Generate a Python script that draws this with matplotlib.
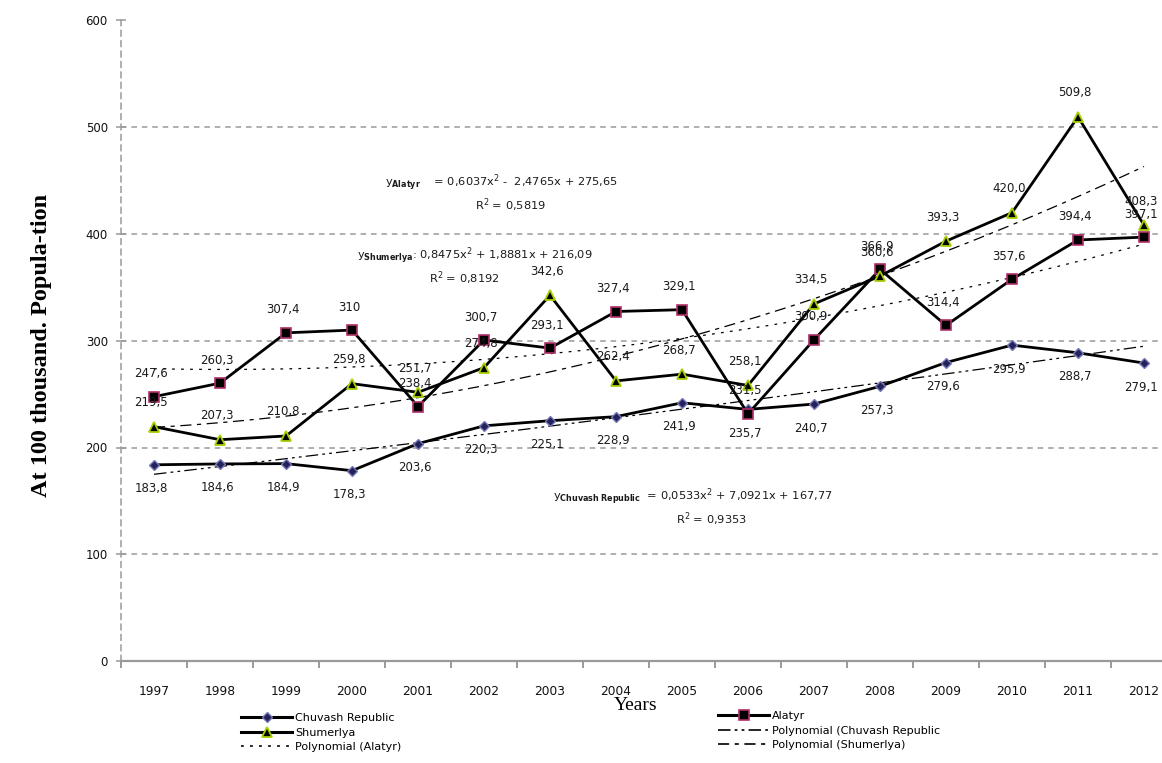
import numpy as np
import matplotlib
matplotlib.use("Agg")
import matplotlib.pyplot as plt
from matplotlib.lines import Line2D
from matplotlib.ticker import FixedLocator, NullFormatter

# ---- data -------------------------------------------------------------
years = [str(y) for y in range(1997, 2013)]
chuvash = [183.8, 184.6, 184.9, 178.3, 203.6, 220.3, 225.1, 228.9,
           241.9, 235.7, 240.7, 257.3, 279.6, 295.9, 288.7, 279.1]
alatyr = [247.6, 260.3, 307.4, 310, 238.4, 300.7, 293.1, 327.4,
          329.1, 231.5, 300.9, 366.9, 314.4, 357.6, 394.4, 397.1]
shumerlya = [219.5, 207.3, 210.8, 259.8, 251.7, 274.8, 342.6, 262.4,
             268.7, 258.1, 334.5, 360.6, 393.3, 420.0, 509.8, 408.3]
y_ticks = [0, 100, 200, 300, 400, 500, 600]

eq_alatyr = r"$\mathregular{y}_{\mathbf{Alatyr}}$    = 0,6037x$^{2}$ -  2,4765x + 275,65"
r2_alatyr = r"R$^{2}$ = 0,5819"
eq_shum = r"$\mathregular{y}_{\mathbf{Shumerlya}}$: 0,8475x$^{2}$ + 1,8881x + 216,09"
r2_shum = r"R$^{2}$ = 0,8192"
eq_chuv = r"$\mathregular{y}_{\mathbf{Chuvash\ Republic}}$  = 0,0533x$^{2}$ + 7,0921x + 167,77"
r2_chuv = r"R$^{2}$ = 0,9353"

plt.rcParams["lines.scale_dashes"] = False
plt.rcParams["font.family"] = ["DejaVu Sans"]
plt.rcParams["mathtext.fontset"] = "dejavusans"

W, H = 1162, 763
fig = plt.figure(figsize=(W / 100, H / 100), dpi=100)
ax = fig.add_axes([121 / W, (H - 661) / H, 1056 / W, 640.5 / H])

x = np.arange(len(years))
ax.set_xlim(-0.5, len(years) - 0.5)
ax.set_ylim(0, 600)

# grid and spines
grid_col = "#9a9a9a"
for yv in y_ticks[1:]:
    ax.axhline(yv, color=grid_col, lw=1.1, ls=(0, (4, 3.5)), zorder=1)
for s in ["top", "right"]:
    ax.spines[s].set_visible(False)
ax.spines["left"].set_color(grid_col)
ax.spines["left"].set_linewidth(1.1)
ax.spines["left"].set_linestyle((0, (4, 3.5)))
ax.spines["bottom"].set_color(grid_col)
ax.spines["bottom"].set_linewidth(1.6)

ax.set_yticks(y_ticks)
ax.set_yticklabels([str(v) for v in y_ticks], fontsize=8.5, color="#111111")
ax.tick_params(axis="y", direction="inout", length=7, width=1.1, color=grid_col, pad=6)

ax.set_xticks(x)
ax.set_xticklabels(years, fontsize=8.8, color="#111111")
ax.tick_params(axis="x", which="major", length=0, pad=17)
ax.xaxis.set_minor_locator(FixedLocator(np.arange(-0.5, len(years), 1.0)))
ax.xaxis.set_minor_formatter(NullFormatter())
ax.tick_params(axis="x", which="minor", direction="out", length=5, width=1.4, color=grid_col)

# polynomial trend lines (2nd order, x = 1..N)
xt = np.arange(1, len(years) + 1)
xf = np.linspace(1, len(years), 300)
trend_styles = {
    "chuv": (chuvash, (0, (9, 3, 2, 3, 2, 3))),
    "alat": (alatyr, (0, (2, 4.5))),
    "shum": (shumerlya, (0, (8, 4, 3, 4))),
}
for key, (vals, ls) in trend_styles.items():
    c = np.polyfit(xt, vals, 2)
    ax.plot(xf - 1, np.polyval(c, xf), color="black", lw=0.9, ls=ls, zorder=2)

# series
series = [
    (chuvash, dict(marker="D", ms=5.5, mfc="#23235a", mec="#7878b8", mew=1.0), -24),
    (alatyr, dict(marker="s", ms=7.5, mfc="black", mec="#b0306a", mew=1.2), 23),
    (shumerlya, dict(marker="^", ms=7, mfc="black", mec="#a6d000", mew=1.3), 24),
]
for vals, mk, dy in series:
    ax.plot(x, vals, color="black", lw=2.0, zorder=3, **mk)

def fmt(v):
    return str(v) if isinstance(v, int) else f"{v:.1f}".replace(".", ",")

for vals, mk, dy in series:
    for xi, v in zip(x, vals):
        ax.annotate(fmt(v), (xi, v), xytext=(-3, dy), textcoords="offset pixels",
                    ha="center", va="center", fontsize=8.5, color="#1a1a1a", zorder=4)

# regression equations
eq_kw = dict(fontsize=8.2, color="#1a1a1a", va="center")
ax.text(3.5, 448.5, eq_alatyr, ha="left", **eq_kw)
ax.text(5.4, 427, r2_alatyr, ha="center", **eq_kw)
ax.text(3.07, 380, eq_shum, ha="left", **eq_kw)
ax.text(4.7, 359, r2_shum, ha="center", **eq_kw)
ax.text(6.05, 154.5, eq_chuv, ha="left", **eq_kw)
ax.text(8.45, 133, r2_chuv, ha="center", **eq_kw)

# axis titles
fig.text(42 / W, 1 - 345 / H, "At 100 thousand. Popula-tion", rotation=90,
         ha="center", va="center", fontsize=17.5, fontweight="bold",
         family="Liberation Serif")
fig.text(636 / W, 1 - 705 / H, "Years", ha="center", va="center",
         fontsize=14, family="Liberation Serif")

# legend
def h_series(mk):
    return Line2D([], [], color="black", lw=2.2, **mk)

h_chuv = h_series(series[0][1])
h_alat = h_series(series[1][1])
h_shum = h_series(series[2][1])
h_pchuv = Line2D([], [], color="black", lw=1.2, ls=trend_styles["chuv"][1])
h_palat = Line2D([], [], color="black", lw=1.2, ls=trend_styles["alat"][1])
h_pshum = Line2D([], [], color="black", lw=1.2, ls=trend_styles["shum"][1])

leg_kw = dict(frameon=False, fontsize=8, handlelength=4.6, handletextpad=0.25,
              labelspacing=0.42, borderpad=0, borderaxespad=0, loc="upper left")
fig.legend([h_chuv, h_shum, h_palat],
           ["Chuvash Republic", "Shumerlya", "Polynomial (Alatyr)"],
           bbox_to_anchor=(241 / W, 1 - 713 / H), **leg_kw)
fig.legend([h_alat, h_pchuv, h_pshum],
           ["Alatyr", "Polynomial (Chuvash Republic", "Polynomial (Shumerlya)"],
           bbox_to_anchor=(718 / W, 1 - 711 / H), **leg_kw)

fig.savefig("out.png", dpi=100)
